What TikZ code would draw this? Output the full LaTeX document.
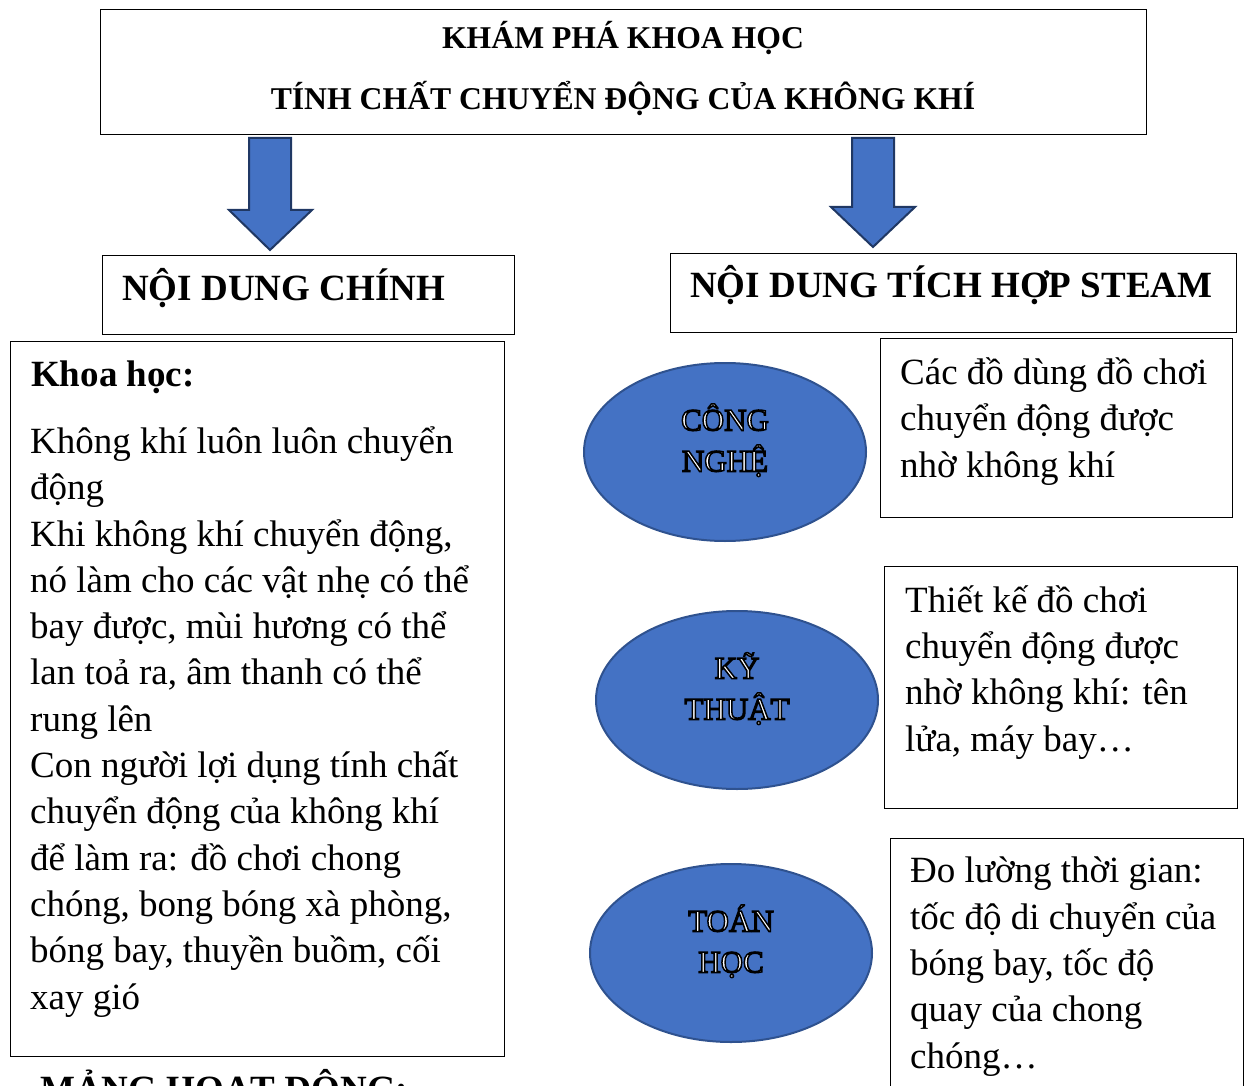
\documentclass[tikz,border=0pt]{standalone}
\usepackage{fontspec}
\setmainfont{Liberation Serif}
\usetikzlibrary{shapes.geometric}
\definecolor{fillblue}{HTML}{4472C4}
\definecolor{edgeblue}{HTML}{2F528F}
\definecolor{arrowedge}{HTML}{203864}
\newcommand\outlinetxt[1]{\special{pdf:literal direct 2 Tr 1.5 w 0 G}#1\special{pdf:literal direct 0 Tr}}
\tikzset{
  box/.style={draw=black, line width=1.3pt, inner sep=0pt, anchor=north west},
  body/.style={inner sep=0pt, anchor=base west, align=left, font=\fontsize{37}{46.3}\selectfont},
  heading/.style={inner sep=0pt, anchor=base west, font=\fontsize{37}{44}\selectfont\bfseries},
  oval/.style={ellipse, draw=edgeblue, line width=2pt, fill=fillblue, minimum width=282, minimum height=178, inner sep=0pt},
  ovaltext/.style={inner sep=0pt, anchor=base, align=center, text=white, yshift=-19.5pt, font=\fontsize{31}{41}\selectfont},
  blockarrow/.style={draw=arrowedge, line width=2pt, fill=fillblue, line join=miter}
}
\begin{document}
\begin{tikzpicture}[x=1pt,y=-1pt]
\useasboundingbox (0,0) rectangle (1248,1086);
\clip (0,0) rectangle (1248,1086);
% title
\node[box, minimum width=1046, minimum height=125] (title) at (100,9) {};
\node[inner sep=0pt, anchor=base, align=center, font=\fontsize{31.7}{61}\selectfont\bfseries] (titletext) at (623,110) {KHÁM PHÁ KHOA HỌC\\TÍNH CHẤT CHUYỂN ĐỘNG CỦA KHÔNG KHÍ};
% block arrows
\draw[blockarrow] (249,138) -- (291,138) -- (291,210) -- (312,210) -- (270,250) -- (229,210) -- (249,210) -- cycle;
\draw[blockarrow] (852,138) -- (894,138) -- (894,207) -- (915,207) -- (873,247) -- (831,207) -- (852,207) -- cycle;
% headings
\node[box, minimum width=412, minimum height=79] (mainbox) at (102,255) {};
\node[heading] (maintext) at (122,300) {NỘI DUNG CHÍNH};
\node[box, minimum width=566, minimum height=79] (steambox) at (670,253) {};
\node[heading] (steamtext) at (690,298) {NỘI DUNG TÍCH HỢP STEAM};
% left content box
\node[box, minimum width=494, minimum height=715] (leftbox) at (10,341) {};
\node[heading] (khoahoc) at (31,386) {Khoa học:};
\node[body] (lefttext) at (30,1009) {Không khí luôn luôn chuyển\\động\\Khi không khí chuyển động,\\nó làm cho các vật nhẹ có thể\\bay được, mùi hương có thể\\lan toả ra, âm thanh có thể\\rung lên\\Con người lợi dụng tính chất\\chuyển động của không khí\\để làm ra: đồ chơi chong\\chóng, bong bóng xà phòng,\\bóng bay, thuyền buồm, cối\\xay gió};
% ovals
\node[oval] (cn) at (725,452) {};
\node[ovaltext] (cntext) at (cn.center) {\outlinetxt{CÔNG}\\\outlinetxt{NGHỆ}};
\node[oval] (kt) at (737,700) {};
\node[ovaltext] (kttext) at (kt.center) {\outlinetxt{KỸ}\\\outlinetxt{THUẬT}};
\node[oval] (th) at (731,953) {};
\node[ovaltext] (thtext) at (th.center) {\outlinetxt{TOÁN}\\\outlinetxt{HỌC}};
% right boxes
\node[box, minimum width=352, minimum height=179] (rb1) at (880,338) {};
\node[body] (rt1) at (900,477) {Các đồ dùng đồ chơi\\chuyển động được\\nhờ không khí};
\node[box, minimum width=353, minimum height=242] (rb2) at (884,566) {};
\node[body] (rt2) at (905,751) {Thiết kế đồ chơi\\chuyển động được\\nhờ không khí: tên\\lửa, máy bay…};
\node[box, minimum width=353, minimum height=280] (rb3) at (890,838) {};
\node[body] (rt3) at (910,1068) {Đo lường thời gian:\\tốc độ di chuyển của\\bóng bay, tốc độ\\quay của chong\\chóng…};
% bottom cut-off heading
\node[heading] (mang) at (40,1101) {MẢNG HOẠT ĐỘNG:};
\end{tikzpicture}
\end{document}
